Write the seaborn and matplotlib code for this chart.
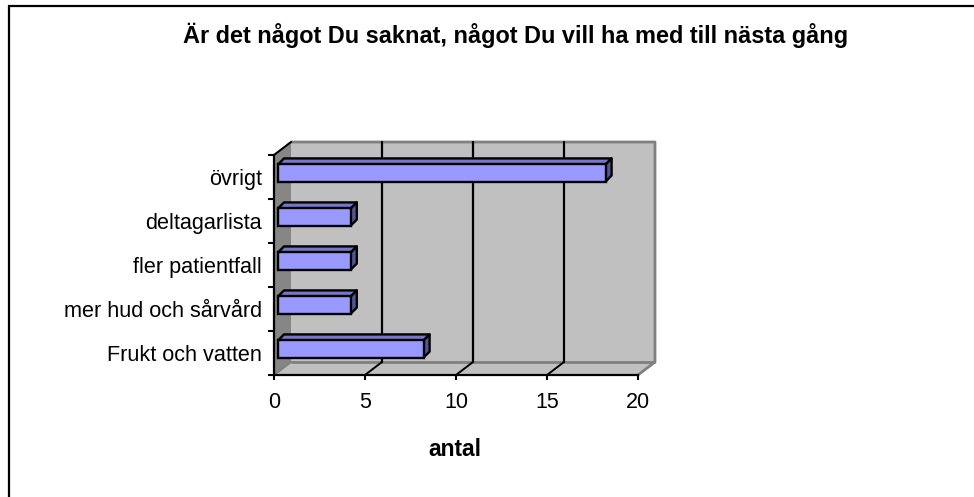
import matplotlib
matplotlib.use("Agg")
import matplotlib.pyplot as plt
from matplotlib.patches import Polygon
from matplotlib.lines import Line2D
from matplotlib.transforms import ScaledTranslation
import seaborn as sns
import pandas as pd

categories = ["övrigt", "deltagarlista", "fler patientfall", "mer hud och sårvård", "Frukt och vatten"]
counts = [18, 4, 4, 4, 8]
x_ticks = [0, 5, 10, 15, 20]
title = "Är det något Du saknat, något Du vill ha med till nästa gång"
x_label = "antal"

W, H = 974, 497
DPI = 100
sns.set_theme(style="white")
plt.rcParams["font.family"] = ["Liberation Sans", "DejaVu Sans"]

fig = plt.figure(figsize=(W / DPI, H / DPI), dpi=DPI, facecolor="white")
# frame: only the top and left edges fall inside the picture
fig.add_artist(Line2D([9 / W, 9 / W, 1], [0, 1 - 6 / H, 1 - 6 / H], transform=fig.transFigure,
                      color="black", linewidth=1.6, solid_joinstyle="miter"))

L, R, T, B = 274, 638, 155, 375
ax = fig.add_axes([L / W, 1 - B / H, (R - L) / W, (B - T) / H])
ax.patch.set_alpha(0)

df = pd.DataFrame({"category": categories, "count": counts})
sns.barplot(data=df, y="category", x="count", orient="h", ax=ax, color="#9999ff", saturation=1,
            width=0.39, edgecolor="black", linewidth=1.7, zorder=5)
ax.set_xlim(x_ticks[0], x_ticks[-1])
ax.set_ylim(len(categories) - 0.5, -0.5)


def px(dx, dy):
    """Offset in pixels; dy positive is upwards."""
    return ax.transData + ScaledTranslation(dx / DPI, dy / DPI, fig.dpi_scale_trans)


def poly(points, dx=0, dy=0, **kw):
    p = Polygon(points, closed=True, transform=px(dx, dy), **kw)
    ax.add_patch(p)
    return p


bars = list(ax.patches)
x0, x1 = ax.get_xlim()
y_bot, y_top = ax.get_ylim()
depth_x, depth_y = 17, 13
unit_x = (R - L) / (x1 - x0)
unit_y = (B - T) / (y_bot - y_top)
dx_data, dy_data = depth_x / unit_x, depth_y / unit_y

# walls
wall = dict(clip_on=False, linewidth=0, zorder=1)
poly([(x0, y_bot), (x1, y_bot), (x1 + dx_data, y_bot - dy_data), (x0 + dx_data, y_bot - dy_data)],
     facecolor="#c0c0c0", **wall)
poly([(x0 + dx_data, y_bot - dy_data), (x1 + dx_data, y_bot - dy_data),
      (x1 + dx_data, y_top - dy_data), (x0 + dx_data, y_top - dy_data)], facecolor="#c0c0c0", **wall)
poly([(x0, y_bot), (x0 + dx_data, y_bot - dy_data), (x0 + dx_data, y_top - dy_data), (x0, y_top)],
     facecolor="#868686", **wall)

# wall edges
edge = dict(color="#808080", linewidth=2, clip_on=False, zorder=2, solid_capstyle="butt")
ax.plot([x0 + dx_data, x1 + dx_data, x1 + dx_data, x1],
        [y_top - dy_data, y_top - dy_data, y_bot - dy_data, y_bot], **edge)
ax.plot([x0 + dx_data, x1 + dx_data], [y_bot - dy_data, y_bot - dy_data], **edge)
ax.plot([x0, x0 + dx_data], [y_bot, y_bot - dy_data], color="#808080", linewidth=1.5, clip_on=False, zorder=2)

# gridlines: floor diagonal + back wall
for t in x_ticks[1:-1]:
    ax.plot([t + dx_data, t + dx_data], [y_bot - dy_data, y_top - dy_data],
            color="black", linewidth=1.6, clip_on=False, zorder=3)
    ax.plot([t, t + dx_data], [y_bot, y_bot - dy_data],
            color="black", linewidth=1.4, clip_on=False, zorder=3)
ax.plot([x0, x0 + dx_data], [y_top, y_top - dy_data], color="black", linewidth=1.5, clip_on=False, zorder=3)

# 3D bars, from the bars seaborn drew
gap_x, gap_y = 4, 4
bar_dx, bar_dy = 6, 6
for bar in bars:
    xa, xb = bar.get_x(), bar.get_x() + bar.get_width()
    ya, yb = bar.get_y(), bar.get_y() + bar.get_height()
    top, bottom = min(ya, yb), max(ya, yb)
    bar.set_transform(px(gap_x, gap_y))
    bar.set_clip_on(False)
    side = dict(edgecolor="black", linewidth=1.7, clip_on=False, zorder=4, joinstyle="round")
    bdx, bdy = bar_dx / unit_x, bar_dy / unit_y
    poly([(xa, top), (xb, top), (xb + bdx, top - bdy), (xa + bdx, top - bdy)],
         dx=gap_x, dy=gap_y, facecolor="#7777c4", **side)
    poly([(xb, top), (xb + bdx, top - bdy), (xb + bdx, bottom - bdy), (xb, bottom)],
         dx=gap_x, dy=gap_y, facecolor="#555590", **side)

# axes
for s in ("top", "right"):
    ax.spines[s].set_visible(False)
for s in ("left", "bottom"):
    ax.spines[s].set_visible(True)
    ax.spines[s].set_color("black")
    ax.spines[s].set_linewidth(1.6)
    ax.spines[s].set_zorder(6)

ax.set_xticks(x_ticks)
ax.set_xticklabels([str(t) for t in x_ticks], fontsize=15.5, color="black")
ax.set_yticks(range(len(categories)))
ax.set_yticklabels(categories, fontsize=15.6, color="black")
ax.set_yticks([i - 0.5 for i in range(len(categories) + 1)], minor=True)
ax.tick_params(axis="x", length=3.5, width=1.5, color="black", pad=9, bottom=True)
ax.tick_params(axis="y", which="major", length=0, pad=8.5, left=False)
ax.tick_params(axis="y", which="minor", length=4, width=1.5, color="black", left=True)
ax.set_xlim(x0, x1)
ax.set_ylim(y_bot, y_top)
ax.set_xlabel("")
ax.set_ylabel("")

fig.text(516 / W, 1 - 35 / H, title, ha="center", va="center", fontsize=16.9, fontweight="bold", color="black")
fig.text(455 / W, 1 - 449 / H, x_label, ha="center", va="center", fontsize=16.4, fontweight="bold", color="black")

fig.savefig("out.png", dpi=DPI)
